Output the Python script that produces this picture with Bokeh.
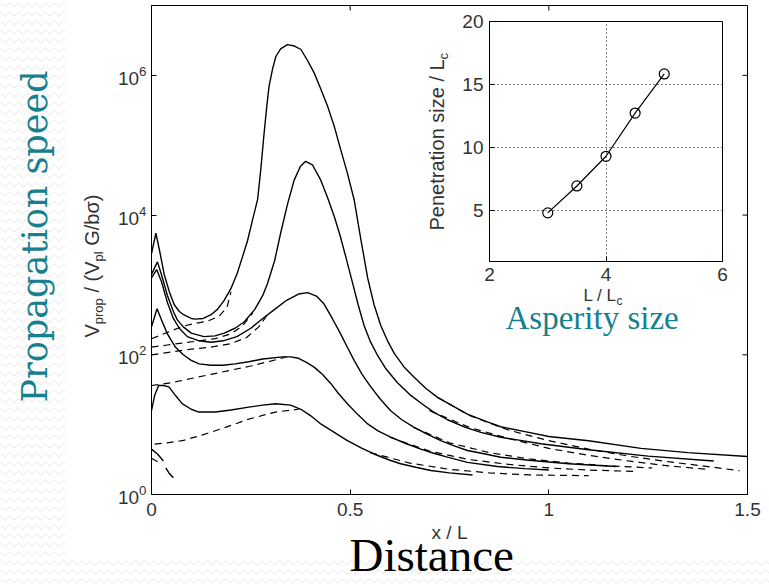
import numpy as np
from math import pi
from bokeh.plotting import figure
from bokeh.layouts import column
from bokeh.models import FixedTicker, Label, Range1d, BoxAnnotation
from bokeh.embed import file_html
from bokeh.resources import INLINE

# ---------------- main panel data: x / L  vs  log10( V_prop / (V_pl G/b sigma) ) ----------------
x_ticks = [0, 0.5, 1, 1.5]
x_tick_labels = ["0", "0.5", "1", "1.5"]
y_ticks = [1, 1e2, 1e4, 1e6]

s1_x = [0.0, 0.011, 0.02, 0.032, 0.045, 0.057, 0.07, 0.082, 0.1, 0.111, 0.13, 0.149, 0.166, 0.183, 0.2, 0.216,
        0.23, 0.242, 0.255, 0.267, 0.275, 0.283, 0.29, 0.296, 0.305, 0.313, 0.325, 0.342, 0.36, 0.376, 0.392,
        0.409, 0.425, 0.443, 0.46, 0.476, 0.493, 0.51, 0.527, 0.544, 0.56, 0.577, 0.594, 0.611, 0.635, 0.661,
        0.69, 0.72, 0.76, 0.795, 0.84, 0.879, 0.94, 1.0, 1.1, 1.232, 1.35, 1.5]
s1_log = [3.45, 3.74, 3.5, 3.15, 2.9, 2.72, 2.62, 2.57, 2.52, 2.51, 2.52, 2.57, 2.65, 2.78, 2.95, 3.17,
          3.42, 3.64, 3.95, 4.22, 4.65, 5.15, 5.55, 5.85, 6.1, 6.27, 6.38, 6.44, 6.42, 6.37, 6.22,
          6.04, 5.82, 5.56, 5.27, 4.94, 4.6, 4.22, 3.65, 3.1, 2.72, 2.42, 2.2, 2.02, 1.83, 1.68,
          1.52, 1.39, 1.26, 1.15, 1.05, 0.97, 0.9, 0.83, 0.77, 0.66, 0.6, 0.545]

s2_x = [0.0, 0.015, 0.025, 0.04, 0.055, 0.065, 0.08, 0.1, 0.132, 0.16, 0.183, 0.21, 0.233, 0.26, 0.28, 0.292,
        0.31, 0.325, 0.342, 0.359, 0.375, 0.388, 0.405, 0.426, 0.443, 0.46, 0.475, 0.49, 0.505, 0.52, 0.535,
        0.55, 0.569, 0.59, 0.619, 0.65, 0.678, 0.71, 0.745, 0.79, 0.829, 0.879, 0.98, 1.1, 1.25, 1.415]
s2_log = [3.15, 3.33, 3.15, 2.85, 2.62, 2.5, 2.4, 2.31, 2.26, 2.27, 2.31, 2.38, 2.47, 2.65, 2.85, 3.02,
          3.35, 3.74, 4.15, 4.5, 4.7, 4.77, 4.72, 4.5, 4.25, 3.98, 3.7, 3.38, 3.05, 2.72, 2.42,
          2.2, 1.99, 1.8, 1.6, 1.43, 1.31, 1.18, 1.07, 0.96, 0.89, 0.82, 0.726, 0.64, 0.55, 0.48]

s3_x = [0.0, 0.013, 0.025, 0.04, 0.055, 0.07, 0.09, 0.12, 0.15, 0.18, 0.215, 0.25, 0.28, 0.31, 0.34, 0.37,
        0.393, 0.415, 0.434, 0.455, 0.476, 0.49, 0.51, 0.53, 0.552, 0.575, 0.602, 0.63, 0.661, 0.695, 0.728,
        0.76, 0.795, 0.84, 0.879, 0.95, 1.05, 1.17]
s3_log = [3.1, 3.22, 3.05, 2.75, 2.52, 2.38, 2.26, 2.2, 2.18, 2.2, 2.26, 2.38, 2.52, 2.65, 2.78, 2.87,
          2.89, 2.84, 2.73, 2.52, 2.3, 2.14, 1.92, 1.72, 1.54, 1.37, 1.2, 1.07, 0.96, 0.86, 0.77,
          0.7, 0.63, 0.58, 0.534, 0.49, 0.44, 0.4]

s4_x = [0.0, 0.014, 0.025, 0.04, 0.06, 0.08, 0.1, 0.12, 0.15, 0.18, 0.21, 0.245, 0.28, 0.33, 0.35, 0.37,
        0.39, 0.41, 0.43, 0.451, 0.47, 0.493, 0.52, 0.544, 0.57, 0.602, 0.64, 0.678, 0.71, 0.745, 0.795,
        0.871, 0.94, 1.0]
s4_log = [2.4, 2.66, 2.5, 2.3, 2.11, 2.0, 1.92, 1.87, 1.85, 1.85, 1.87, 1.9, 1.94, 1.97, 1.97, 1.95,
          1.89, 1.82, 1.72, 1.59, 1.45, 1.3, 1.14, 1.01, 0.91, 0.82, 0.73, 0.65, 0.59, 0.534, 0.46,
          0.4, 0.37, 0.35]

s5_x = [0.0, 0.008, 0.018, 0.03, 0.044, 0.06, 0.077, 0.1, 0.119, 0.161, 0.2, 0.245, 0.28, 0.312, 0.35,
        0.376, 0.4, 0.426, 0.46, 0.493, 0.53, 0.56, 0.6, 0.627, 0.665, 0.703, 0.75, 0.808]
s5_log = [1.2, 1.42, 1.56, 1.56, 1.54, 1.42, 1.3, 1.22, 1.18, 1.18, 1.21, 1.25, 1.28, 1.3, 1.28,
          1.22, 1.13, 1.01, 0.89, 0.77, 0.66, 0.58, 0.49, 0.44, 0.39, 0.344, 0.31, 0.28]

s6_x = [0.0, 0.015, 0.03]
s6_log = [0.65, 0.58, 0.48]
s6b_x = [0.036, 0.045, 0.055]
s6b_log = [0.38, 0.3, 0.24]

# dashed predictions: early (head) and late (tail) parts
d1h_x = [0.0, 0.04, 0.08, 0.11, 0.14, 0.17, 0.19, 0.2]
d1h_log = [2.23, 2.32, 2.41, 2.45, 2.48, 2.55, 2.68, 2.9]
d2h_x = [0.0, 0.04, 0.08, 0.12, 0.16, 0.2, 0.23, 0.255]
d2h_log = [2.11, 2.14, 2.17, 2.2, 2.23, 2.3, 2.42, 2.6]
d3h_x = [0.0, 0.05, 0.1, 0.15, 0.2, 0.24, 0.27, 0.29]
d3h_log = [2.0, 2.04, 2.08, 2.11, 2.16, 2.25, 2.4, 2.56]
d4h_x = [0.0, 0.05, 0.1, 0.15, 0.2, 0.25, 0.3, 0.34]
d4h_log = [1.56, 1.6, 1.66, 1.72, 1.78, 1.84, 1.91, 1.97]
d5h_x = [0.008, 0.04, 0.077, 0.127, 0.186, 0.245, 0.312, 0.37]
d5h_log = [0.72, 0.74, 0.77, 0.85, 0.96, 1.08, 1.18, 1.22]
d6_x = [0.0, 0.012, 0.025]
d6_log = [0.52, 0.48, 0.43]

d1t_x = [0.72, 0.8, 0.9, 1.0, 1.1, 1.2, 1.3, 1.4, 1.48]
d1t_log = [1.39, 1.13, 0.92, 0.77, 0.65, 0.55, 0.47, 0.4, 0.34]
d2t_x = [0.7, 0.8, 0.9, 1.0, 1.1, 1.2, 1.3, 1.4]
d2t_log = [1.2, 0.96, 0.8, 0.66, 0.56, 0.48, 0.41, 0.36]
d3t_x = [0.66, 0.75, 0.85, 0.95, 1.05, 1.15, 1.26]
d3t_log = [0.96, 0.74, 0.6, 0.51, 0.45, 0.41, 0.38]
d4t_x = [0.6, 0.7, 0.8, 0.9, 1.0, 1.1, 1.22]
d4t_log = [0.82, 0.62, 0.5, 0.43, 0.38, 0.35, 0.33]
d5t_x = [0.55, 0.65, 0.75, 0.85, 0.95, 1.1]
d5t_log = [0.6, 0.45, 0.36, 0.31, 0.28, 0.27]

# ---------------- inset data ----------------
ins_x = [3, 3.5, 4, 4.5, 5]                 # L / Lc
ins_y = [4.85, 6.98, 9.33, 12.75, 15.85]    # penetration size / Lc
ins_x_ticks = [2, 4, 6]
ins_y_ticks = [5, 10, 15, 20]

TEAL = "#17808e"
SANS = "Liberation Sans"
TICK_COLOR = "#333333"
W, H = 769, 584


def style_axis(ax):
    ax.major_tick_in = 5
    ax.major_tick_out = 0
    ax.minor_tick_in = 0
    ax.minor_tick_out = 0
    ax.axis_line_color = "black"
    ax.major_tick_line_color = "black"
    ax.major_label_text_font = SANS
    ax.major_label_text_font_size = "19px"
    ax.major_label_text_color = TICK_COLOR


# ---------------- main figure ----------------
p = figure(width=W, height=H, x_range=Range1d(0, 1.5), y_range=Range1d(1, 1e7), y_axis_type="log",
           output_backend="svg", toolbar_location=None, frame_align=False,
           min_border_left=151, min_border_right=22, min_border_top=5, min_border_bottom=90,
           background_fill_color="white", border_fill_color="white", outline_line_color="black")
p.grid.visible = False

p.xaxis.ticker = FixedTicker(ticks=x_ticks, minor_ticks=[])
p.xaxis.major_label_overrides = {t: s for t, s in zip(x_ticks, x_tick_labels)}
p.yaxis.ticker = FixedTicker(ticks=y_ticks, minor_ticks=[])
style_axis(p.xaxis[0])
style_axis(p.yaxis[0])
p.xaxis.major_label_standoff = 8
p.yaxis.major_label_standoff = 5
p.xaxis.axis_label = "x / L"
p.xaxis.axis_label_text_font = SANS
p.xaxis.axis_label_text_font_size = "19px"
p.xaxis.axis_label_text_font_style = "normal"
p.xaxis.axis_label_text_color = TICK_COLOR
p.xaxis.axis_label_standoff = 3

# mirror ticks on the right and top edges (half of each dash is clipped by the frame)
p.scatter([1.5] * (len(y_ticks) - 1), y_ticks[1:], marker="dash", size=10, line_color="black", line_width=1)
p.scatter(x_ticks[1:-1], [1e7] * (len(x_ticks) - 2), marker="dash", angle=pi / 2, size=10,
          line_color="black", line_width=1)

solids = [(s1_x, s1_log), (s2_x, s2_log), (s3_x, s3_log), (s4_x, s4_log), (s5_x, s5_log),
          (s6_x, s6_log), (s6b_x, s6b_log)]
dashes = [(d1h_x, d1h_log), (d2h_x, d2h_log), (d3h_x, d3h_log), (d4h_x, d4h_log), (d5h_x, d5h_log),
          (d6_x, d6_log), (d1t_x, d1t_log), (d2t_x, d2t_log), (d3t_x, d3t_log), (d4t_x, d4t_log),
          (d5t_x, d5t_log)]
for xs, ls in dashes:
    p.line(xs, 10 ** np.array(ls), line_color="black", line_width=1.2, line_dash="7 5")
for xs, ls in solids:
    p.line(xs, 10 ** np.array(ls), line_color="black", line_width=1.4)

# ---------------- inset ----------------
q = figure(width=314, height=305, x_range=Range1d(2, 6), y_range=Range1d(1, 20),
           output_backend="svg", toolbar_location=None, frame_align=False,
           min_border_left=69, min_border_right=12, min_border_top=13, min_border_bottom=52,
           background_fill_color="white", border_fill_alpha=0, outline_line_color="black")
q.xaxis.ticker = FixedTicker(ticks=ins_x_ticks, minor_ticks=[])
q.yaxis.ticker = FixedTicker(ticks=ins_y_ticks, minor_ticks=[])
style_axis(q.xaxis[0])
style_axis(q.yaxis[0])
q.xaxis.major_label_standoff = 6
q.yaxis.major_label_standoff = 6
for g in (q.xgrid[0], q.ygrid[0]):
    g.grid_line_color = "black"
    g.grid_line_dash = "1 3"
    g.grid_line_width = 1

q.line(ins_x, ins_y, line_color="black", line_width=1.2)
q.scatter(ins_x, ins_y, marker="circle", size=10, fill_color=None, line_color="black", line_width=1.2)
q.styles = {"position": "absolute", "left": "420px", "top": "8px"}

# ---------------- transparent overlay for the free texts (frame = whole page) ----------------
t = figure(width=W, height=H, x_range=Range1d(0, W), y_range=Range1d(0, H),
           output_backend="svg", toolbar_location=None, frame_align=False,
           x_axis_location=None, y_axis_location=None,
           min_border_left=0, min_border_right=0, min_border_top=0, min_border_bottom=0,
           background_fill_alpha=0, border_fill_alpha=0, outline_line_color=None)
t.grid.visible = False
t.styles = {"position": "absolute", "left": "0px", "top": "0px", "pointer-events": "none"}

# faint slide-background wave pattern around the picture (left strip and bottom strip)
for box in (dict(left=0, right=65, bottom=0, top=H), dict(left=65, right=W, bottom=0, top=H - 556)):
    t.add_layout(BoxAnnotation(**box, fill_alpha=0, line_color=None, hatch_pattern="horizontal_wave",
                               hatch_color="#e6e6e6", hatch_scale=9, hatch_weight=1, level="underlay"))

BL = 0.3  # measured offset of the rendered baseline, as a fraction of the font size


def put(gx, gy, text, size, color=TICK_COLOR, font=SANS, angle=0.0):
    """gx, gy: wanted baseline start in page pixels (from the top-left corner)."""
    if angle:
        gx = gx - BL * size
    else:
        gy = gy - BL * size
    t.add_layout(Label(x=gx, y=H - gy, x_units="screen", y_units="screen", text=text,
                       text_font=font, text_font_size=f"{size}px", text_color=color, angle=angle,
                       text_align="left", text_baseline="alphabetic"))


# main y-axis label  V_prop / (V_pl G/b sigma), rotated, built from pieces for the subscripts
# (text, size, subscript?, advance in px including the following space)
pieces = [("V", 20, False, 13.3), ("prop", 13, True, 26.0 + 5.6), ("/ (V", 20, False, 31.1),
          ("pl", 13, True, 10.1 + 5.6), ("G/b\u03c3)", 20, False, 0)]
pos = 337.0
for txt, sz, sub, adv in pieces:
    put(97 + (5 if sub else 0), pos, txt, sz, angle=pi / 2)
    pos -= adv

# inset axis labels
put(583, 300, "L / L", 17)
put(616, 304, "c", 12)
put(442, 230, "Penetration size / L", 20, angle=pi / 2)
put(447, 59, "c", 13, angle=pi / 2)

# slide annotations
put(45, 402, "Propagation speed", 35, color=TEAL, font="DejaVu Serif", angle=pi / 2)
put(349, 569, "Distance", 47, color="black", font="Liberation Serif")
put(505, 327, "Asperity size", 33, color=TEAL, font="Liberation Serif")

layout = column(p, q, t)
open("out.html", "w").write(file_html(layout, INLINE))
